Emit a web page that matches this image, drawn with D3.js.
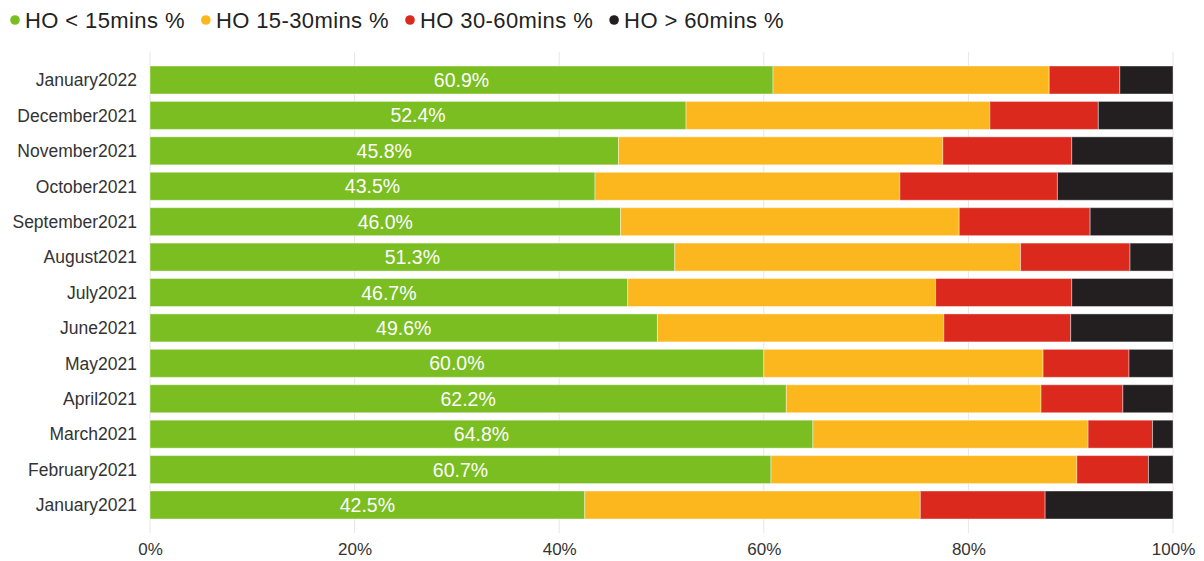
<!DOCTYPE html>
<html>
<head>
<meta charset="utf-8">
<script src="https://cdn.jsdelivr.net/npm/d3@7"></script>
<style>
  html, body { margin: 0; padding: 0; background: #fff; }
  svg { display: block; font-family: "Liberation Sans", Arial, sans-serif; }
</style>
</head>
<body>
<svg id="chart" width="1204" height="561"></svg>
<script>
// Monthly handover-time distribution (share of handovers per time band)
const months = [
  "January2022", "December2021", "November2021", "October2021", "September2021",
  "August2021", "July2021", "June2021", "May2021", "April2021",
  "March2021", "February2021", "January2021"
];
const under15   = [60.9, 52.4, 45.8, 43.5, 46.0, 51.3, 46.7, 49.6, 60.0, 62.2, 64.8, 60.7, 42.5];
const from15to30 = [27.0, 29.7, 31.7, 29.8, 33.1, 33.8, 30.1, 28.0, 27.3, 24.9, 26.9, 29.9, 32.8];
const from30to60 = [ 6.9, 10.6, 12.6, 15.4, 12.8, 10.7, 13.3, 12.4,  8.4,  8.0,  6.3,  7.0, 12.2];
const over60    = [ 5.2,  7.3,  9.9, 11.3,  8.1,  4.2,  9.9, 10.0,  4.3,  4.9,  2.0,  2.4, 12.5];

const seriesNames = ["HO < 15mins %", "HO 15-30mins %", "HO 30-60mins %", "HO > 60mins %"];
const seriesColors = ["#7abe22", "#fdb71e", "#db291d", "#231f20"];
const xTicks = [0, 0.2, 0.4, 0.6, 0.8, 1];

const seriesKeys = ["s0", "s1", "s2", "s3"];
const table = months.map((m, i) => ({
  month: m,
  s0: under15[i], s1: from15to30[i], s2: from30to60[i], s3: over60[i]
}));

const svg = d3.select("#chart");

const x = d3.scaleLinear().domain([0, 100]).range([150, 1173]);
const xPct = d3.scaleLinear().domain([0, 1]).range([150, 1173]);
const y = d3.scaleBand()
  .domain(months)
  .range([60.7, 524.3])
  .paddingInner(0.21)
  .paddingOuter(0.15);

// vertical gridlines
svg.append("g")
  .selectAll("line")
  .data(xTicks)
  .join("line")
  .attr("x1", d => xPct(d)).attr("x2", d => xPct(d))
  .attr("y1", 52).attr("y2", 533)
  .attr("stroke", "#e6e6e6")
  .attr("stroke-width", 1);

// stacked bars
const stacked = d3.stack().keys(seriesKeys)(table);
svg.append("g")
  .selectAll("g")
  .data(stacked)
  .join("g")
  .attr("fill", (d, i) => seriesColors[i])
  .selectAll("rect")
  .data(d => d)
  .join("rect")
  .attr("x", d => x(d[0]))
  .attr("width", d => x(d[1]) - x(d[0]))
  .attr("y", d => y(d.data.month))
  .attr("height", y.bandwidth())
  .attr("stroke", "rgba(255,255,255,0.4)")
  .attr("stroke-width", 1);

// value labels centred in the first segment
svg.append("g")
  .selectAll("text")
  .data(table)
  .join("text")
  .attr("x", d => (x(0) + x(d.s0)) / 2)
  .attr("y", d => y(d.month) + y.bandwidth() / 2)
  .attr("dy", "0.36em")
  .attr("text-anchor", "middle")
  .attr("fill", "#ffffff")
  .style("font-size", "19.5px")
  .text(d => d.s0.toFixed(1) + "%");

// category axis
const yAxis = svg.append("g")
  .attr("transform", "translate(150,0)")
  .call(d3.axisLeft(y).tickSize(0).tickPadding(13));
yAxis.select(".domain").remove();
yAxis.selectAll("text")
  .attr("fill", "#333333")
  .style("font-size", "17.5px")
  .attr("dy", "0.36em");

// value axis
const xAxis = svg.append("g")
  .attr("transform", "translate(0,533)")
  .call(d3.axisBottom(xPct).tickValues(xTicks).tickFormat(d3.format(".0%")).tickSize(0).tickPadding(10));
xAxis.select(".domain").remove();
xAxis.selectAll("text")
  .attr("fill", "#333333")
  .style("font-size", "17px")
  .attr("dy", "0.71em");

// legend
const legend = svg.append("g");
let lx = 15;
seriesNames.forEach((name, i) => {
  const item = legend.append("g");
  item.append("circle")
    .attr("cx", lx).attr("cy", 20).attr("r", 4.8)
    .attr("fill", seriesColors[i]);
  const t = item.append("text")
    .attr("x", lx + 10)
    .attr("y", 20)
    .attr("dy", "0.36em")
    .attr("fill", "#222222")
    .style("font-size", "22px")
    .style("letter-spacing", "0.4px")
    .text(name);
  const w = t.node().getComputedTextLength();
  lx = lx + 10 + w + 21;
});
</script>
</body>
</html>
